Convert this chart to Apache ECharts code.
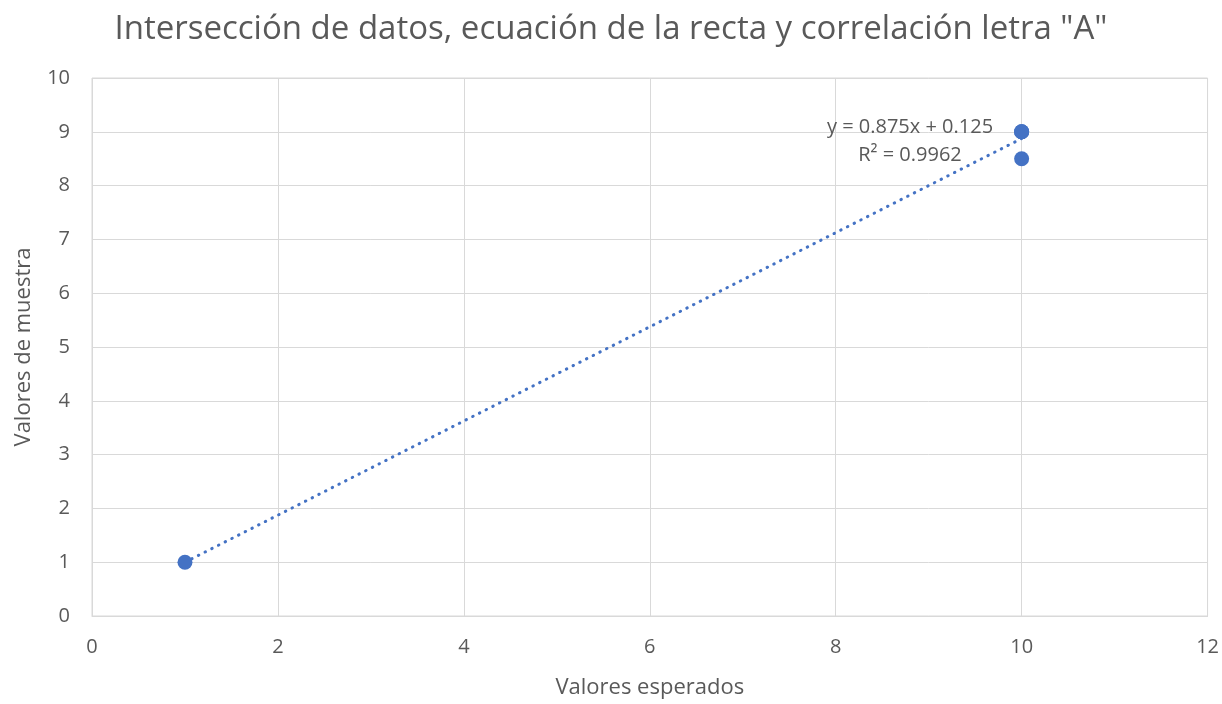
<!DOCTYPE html>
<html>
<head>
<meta charset="utf-8">
<script src="https://cdn.jsdelivr.net/npm/echarts@6/dist/echarts.min.js"></script>
<style>
  html, body { margin: 0; padding: 0; background: #fff; }
  #chart { width: 1222px; height: 704px; }
</style>
</head>
<body>
<div id="chart"></div>
<script>
// Sample points: expected value (x) vs. measured value (y)
const expectedValues = [1, 10, 10, 10, 10];
const sampleValues   = [1, 9, 9, 9, 8.5];

// Linear trend line shown on the chart
const trendSlope = 0.875;
const trendIntercept = 0.125;
const trendR2 = 0.9962;

const titleText = 'Intersección de datos, ecuación de la recta y correlación letra "A"';
const xAxisName = 'Valores esperados';
const yAxisName = 'Valores de muestra';

const FONT = '"Open Sans", "Noto Sans", sans-serif';
const TEXT_COLOR = '#595959';
const GRID_COLOR = '#d9d9d9';
const MARK_COLOR = '#4472C4';

const points = expectedValues.map((x, i) => [x, sampleValues[i]]);
const xMin = Math.min(...expectedValues);
const xMax = Math.max(...expectedValues);
const trendPoints = [xMin, xMax].map(x => [x, trendSlope * x + trendIntercept]);

const chart = echarts.init(document.getElementById('chart'), null, { renderer: 'canvas' });

chart.setOption({
  animation: false,
  backgroundColor: '#fff',
  textStyle: { fontFamily: FONT },
  title: {
    text: titleText,
    left: 'center',
    top: 8,
    textStyle: { fontFamily: FONT, fontSize: 33, fontWeight: 'normal', color: TEXT_COLOR }
  },
  grid: { left: 92, right: 13, top: 78, bottom: 83, containLabel: false,
          show: true, borderColor: GRID_COLOR, borderWidth: 1 },
  xAxis: {
    type: 'value', min: 0, max: 12, interval: 2,
    name: xAxisName, nameLocation: 'middle', nameGap: 61,
    nameTextStyle: { fontFamily: FONT, fontSize: 22, color: TEXT_COLOR },
    axisLine: { show: true, lineStyle: { color: GRID_COLOR } },
    axisTick: { show: false },
    axisLabel: { fontFamily: FONT, fontSize: 20, color: TEXT_COLOR, margin: 21 },
    splitLine: { show: true, lineStyle: { color: GRID_COLOR, width: 1 } }
  },
  yAxis: {
    type: 'value', min: 0, max: 10, interval: 1,
    name: yAxisName, nameLocation: 'middle', nameGap: 57,
    nameTextStyle: { fontFamily: FONT, fontSize: 22, color: TEXT_COLOR },
    axisLine: { show: false },
    axisTick: { show: false },
    axisLabel: { fontFamily: FONT, fontSize: 20, color: TEXT_COLOR, margin: 22 },
    splitLine: { show: true, lineStyle: { color: GRID_COLOR, width: 1 } }
  },
  series: [
    {
      name: 'Tendencia',
      type: 'line',
      data: trendPoints,
      symbol: 'none',
      silent: true,
      z: 3,
      lineStyle: { color: MARK_COLOR, width: 3, type: [0.5, 7], cap: 'round' }
    },
    {
      name: 'Muestra',
      type: 'scatter',
      data: points,
      symbol: 'circle',
      symbolSize: 15,
      z: 4,
      itemStyle: { color: MARK_COLOR, opacity: 1 }
    }
  ],
  graphic: [
    {
      type: 'text',
      x: 910,
      y: 113,
      style: {
        text: 'y = ' + trendSlope + 'x + ' + trendIntercept + '\nR² = ' + trendR2,
        align: 'center',
        verticalAlign: 'top',
        fontFamily: FONT,
        fontSize: 20,
        lineHeight: 28,
        fill: TEXT_COLOR
      },
      z: 5
    }
  ]
});
</script>
</body>
</html>
